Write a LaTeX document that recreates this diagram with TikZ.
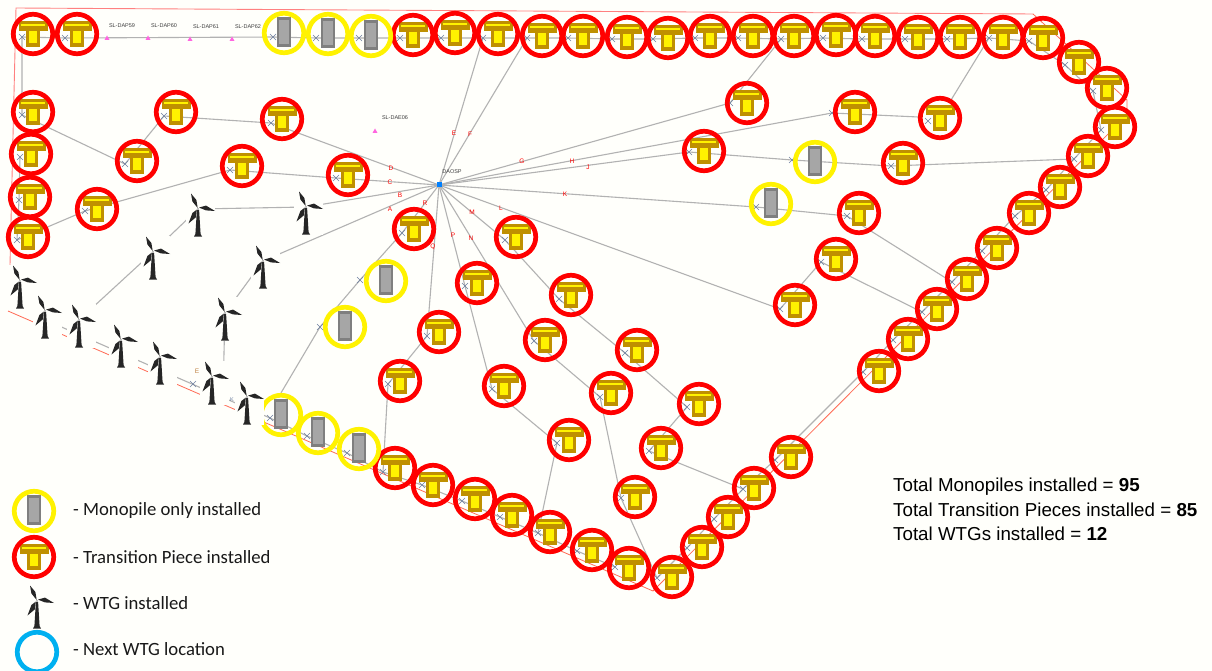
\documentclass[tikz,border=0pt]{standalone}
\usepackage{fontspec}
\setmainfont{Liberation Sans}
\newfontfamily\legfont{Carlito}
\usetikzlibrary{backgrounds}
\definecolor{pagebg}{HTML}{FFFFFB}
\definecolor{tpgold}{HTML}{BF9000}
\definecolor{mpedge}{HTML}{7F7F7F}
\definecolor{mpfill}{HTML}{A6A6A6}
\definecolor{cable}{HTML}{B2B2B2}
\definecolor{xmark}{HTML}{6E80A0}
\definecolor{wtgdark}{HTML}{262626}
\definecolor{boundary}{HTML}{FF6A55}
\definecolor{pinkmark}{HTML}{FF66E0}
\definecolor{nextblue}{HTML}{00B0F0}
\tikzset{
  ringbase/.style={circle,line width=4.7pt,minimum size=39.5pt,inner sep=0pt},
  redring/.style={ringbase,draw=red},
  yelring/.style={ringbase,draw=yellow},
  bluering/.style={ringbase,draw=nextblue},
  cableline/.style={draw=cable,line width=1.1pt},
  redline/.style={draw=boundary,line width=0.8pt},
  spokelbl/.style={text=red,font=\fontsize{6.5}{7}\selectfont,inner sep=0pt},
  tinylbl/.style={text=black!75,font=\fontsize{5.5}{6}\selectfont,inner sep=0pt},
  legtext/.style={anchor=west,inner sep=0pt,text=black!90,font=\legfont\fontsize{18.7}{21}\selectfont},
  totals/.style={anchor=base west,inner sep=0pt,text=black,font=\fontsize{18.75}{21}\selectfont},
}
\newcommand{\TPshape}[2]{%
  \fill[tpgold] (#1-14.5,#2-13) rectangle (#1+15,#2-2.7);
  \fill[tpgold] (#1-7.5,#2-3) rectangle (#1+7,#2+12.6);
  \fill[yellow] (#1-12,#2-10.4) rectangle (#1+12.3,#2-8.2);
  \fill[yellow] (#1-3.7,#2-2.7) rectangle (#1+4.4,#2+8.8);
}
\newcommand{\MPshape}[2]{%
  \draw[mpedge,fill=mpfill,line width=2.2pt] (#1-6.2,#2-14.5) rectangle (#1+6.2,#2+12.5);
}
\newcommand{\XM}[2]{%
  \draw[xmark,line width=0.5pt] (#1-3,#2-3) -- (#1+3,#2+3) (#1-3,#2+3) -- (#1+3,#2-3);
}
\newcommand{\TPnode}[5]{%
  \coordinate (#1-x) at (#2+#4,#3+#5);
  \XM{#2+#4}{#3+#5}\TPshape{#2}{#3}
  \node[redring] (#1) at (#2,#3) {};
}
\newcommand{\MPnode}[5]{%
  \coordinate (#1-x) at (#2+#4,#3+#5);
  \XM{#2+#4}{#3+#5}\MPshape{#2}{#3}
  \node[yelring] (#1) at (#2,#3) {};
}
\newcommand{\WTshape}[2]{%
  \begin{scope}[shift={(#1,#2)}]
    \fill[wtgdark] (-1.1,1) -- (1.1,1) -- (2.6,25) -- (4,27.5) -- (-4,27.5) -- (-2.6,25) -- cycle;
    \fill[wtgdark] (-0.3,-1) -- (-5.6,-7.5) -- (-7,-15.5) -- (-1.6,-9) -- cycle;
    \fill[wtgdark] (1,-1.4) -- (8,-3.4) -- (17,2) -- (8,1.4) -- cycle;
    \fill[wtgdark] (-1.2,0.6) -- (-5.6,4) -- (-9.5,14.5) -- (-2.2,8.4) -- cycle;
    \fill[black!35] (0,0) circle (1.2);
  \end{scope}%
}
\newcommand{\WTnode}[3]{%
  \fill[pagebg] (#2-12,#3-16) rectangle (#2+17,#3+28);
  \WTshape{#2}{#3}
  \coordinate (#1) at (#2,#3);
}
\newcommand{\PMark}[2]{\fill[pinkmark] (#1-2.5,#2+2) -- (#1+2.5,#2+2) -- (#1,#2-2.5) -- cycle;}
\begin{document}
\begin{tikzpicture}[x=1pt,y=-1pt]
\useasboundingbox (0,0) rectangle (1212,671);

% ---------- foundations and turbines: name/x/y/cross dx/cross dy
\foreach \n/\x/\y/\dx/\dy in {
 a1/33/34/-11/3,a2/77/34/-12/4,
 a3/413/35/-13/3,a4/455/33/-14/5,a5/498/34/-15/4,a6/542/36/-15/2,a7/583/36/-15/2,a8/627/37/-15/2,a9/668/38/-15/1,a10/710/36/-15/2,
 a11/753/36/-15/2,a12/794/36/-13/3,a13/836/35/-13/3,a14/875/36/-13/3,a15/918/37/-13/2,a16/960/37/-13/2,a17/1003/37/-14/1,a18/1043/38/-14/3,
 a19/1079/62/-14/3,a20/1107/88/-14/3,a21/1115/127/-14/3,a22/1088/156/-14/3,a23/1060/187/-14/3,a24/1029/213/-14/3,a25/997/248/-15/3,
 a26/967/279/-15/3,a27/937/309/-15/3,a28/908/339/-15/1,a29/879/371/-16/1,a30/791/457/-16/3,a31/754/488/-11/1,a32/728/517/-14/2,
 a33/702/547/-15/1,a34/672/577/-15/1,a35/629/568/-14/-1,a36/592/550/-15/1,a37/550/532/-12/1,a38/512/515/-12/2,a39/475/499/-13/2,
 a40/433/485/-11/0,a41/395/468/-12/4,
 b1/33/112/-11/3,b2/31/154/-11/3,b3/30/197/-11/3,b4/28/237/-11/3,b5/176/112/-12/4,b6/282/119/-11/4,b7/137/161/-12/3,b8/242/166/-12/4,b9/348/175/-12/3,b10/97/209/-12/2,
 c1/414/229/-12/4,c2/516/237/-11/3,c3/477/283/-12/3,c4/571/295/-12/4,c5/439/332/-12/4,c6/545/340/-11/1,c7/637/350/-12/3,c8/400/381/-12/3,c9/504/386/-12/3,
 c10/611/393/-11/4,c11/699/404/-12/3,c12/569/440/-12/3,c13/661/448/-12/3,c14/635/497/-14/1,
 d1/747/103/-17/0,d2/855/112/-23/1,d3/940/118/-12/3,d4/704/151/-15/1,d5/903/163/-12/3,d6/859/213/-12/3,d7/836/259/-15/3,d8/795/305/-15/4}{
  \TPnode{\n}{\x}{\y}{\dx}{\dy}
}
\foreach \n/\x/\y/\dx/\dy in {m1/284/33/-11/4,m2/328/34/-12/4,m3/371/36/-12/2,m4/386/281/-26/-1,m5/345/327/-25/0,m6/281/415/-11/3,m7/318/433/-11/3,m8/359/449/-12/4,m9/815/162/-23/-2,m10/771/204/-15/3}{
  \MPnode{\n}{\x}{\y}{\dx}{\dy}
}
\foreach \n/\x/\y in {w1/198/209,w2/306/207,w3/153/252,w4/263/261,w5/20/281,w6/45/311,w7/79/320,w8/121/340,w9/160/357,w10/225/313,w11/212/377,w12/247/397}{
  \WTnode{\n}{\x}{\y}
}
\XM{193}{384}

% ---------- offshore substation
\fill[blue!50!cyan] (436.5,182.5) rectangle (441.5,187.5);
\coordinate (osp) at (439,185);
\node[tinylbl] (osplbl) at (452,172) {DAOSP};

% ---------- free ends of cable runs
\coordinate (endq) at (223.8,361);
\coordinate (endw) at (50,322);

% ---------- cable array, boundary and page colour underneath everything
\begin{scope}[on background layer]
  \fill[pagebg] (0,0) rectangle (1212,671);
  \draw[draw=red!50,line width=0.9pt] (10,265) -- (16,8) -- (1033,14);
  \draw[redline] (1033,14) -- (1127,100) -- (1127,115) -- (653,591) -- (8,311);
  % outer ring
  \draw[cableline] (a1-x) -- (a2-x) -- (m1-x) -- (m2-x) -- (m3-x) -- (a3-x) -- (a4-x) -- (a5-x) -- (a6-x)
     -- (a7-x) -- (a8-x) -- (a9-x) -- (a10-x) -- (a11-x) -- (a12-x) -- (a13-x) -- (a14-x) -- (a15-x) -- (a16-x) -- (a17-x) -- (a18-x)
     -- (a19-x) -- (a20-x) -- (a21-x) -- (a22-x) -- (a23-x) -- (a24-x) -- (a25-x) -- (a26-x) -- (a27-x) -- (a28-x) -- (a29-x) -- (a30-x)
     -- (a31-x) -- (a32-x) -- (a33-x) -- (a34-x);
  \draw[cableline] (a35-x) -- (a36-x) -- (a37-x) -- (a38-x) -- (a39-x) -- (a40-x) -- (a41-x) -- (m8-x) -- (m7-x) -- (m6-x) -- (endw);
  % spokes
  \draw[cableline] (osp) -- (b6-x) -- (b5-x) -- (b7-x) -- (b1-x) -- (a1-x);
  \draw[cableline] (osp) -- (b9-x) -- (b8-x) -- (b10-x) -- (b4-x) -- (b3-x) -- (b2-x);
  \draw[cableline] (osp) -- (w2) -- (w1) -- (w3) -- (w7);
  \draw[cableline] (osp) -- (w4) -- (w10) -- (endq);
  \draw[cableline] (osp) -- (c1-x) -- (m4-x) -- (m5-x) -- (m6.north);
  \draw[cableline] (osp) -- (c5-x) -- (c8-x) -- (a41-x);
  \draw[cableline] (osp) -- (c3-x) -- (c9-x) -- (c12-x) -- (a37-x);
  \draw[cableline] (osp) -- (c6-x) -- (c10-x) -- (c14-x) -- (a34-x);
  \draw[cableline] (osp) -- (c2-x) -- (c4-x) -- (c7-x) -- (c11-x) -- (c13-x) -- (a31-x);
  \draw[cableline] (osp) -- (d8-x) -- (d7-x) -- (a27-x);
  \draw[cableline] (osp) -- (m10-x) -- (d6-x) -- (a26-x);
  \draw[cableline] (osp) -- (d4-x) -- (m9-x) -- (d5-x) -- (a22-x);
  \draw[cableline] (osp) -- (d2-x) -- (d3) -- (a17-x);
  \draw[cableline] (osp) -- (d1-x) -- (a12-x);
  \draw[cableline] (osp) -- (a5-x);
  \draw[cableline] (osp) -- (a6-x);
\end{scope}

% ---------- spare positions
\PMark{107}{38}\PMark{148}{38}\PMark{190}{39}\PMark{232}{39}\PMark{375}{131}
\node[tinylbl] (sl59) at (122,26) {SL-DAP59};
\node[tinylbl] (sl60) at (164,26) {SL-DAP60};
\node[tinylbl] (sl61) at (206,27) {SL-DAP61};
\node[tinylbl] (sl62) at (248,27) {SL-DAP62};
\node[tinylbl] (sl06) at (395,118) {SL-DAE06};

% ---------- cable letters
\foreach \t/\x/\y in {D/391/168,C/390/182,B/400/195,A/390/209,R/425/203,Q/433/247,P/453/235,N/471/238,
  M/472/212,L/501/208,K/565/194,J/588/167,H/572/161,G/522/161,E/454/133,F/470/134}{
  \node[spokelbl] (lbl\t) at (\x,\y) {\t};
}
\node[spokelbl,text=brown] (lblwe) at (197,371) {E};
\node[tinylbl,text=xmark] (lblwk) at (232,400) {K};

% ---------- legend
\MPshape{34}{511}
\node[yelring] (legmp) at (34,511) {};
\TPshape{34}{557}
\node[redring] (legtp) at (34,557) {};
\WTshape{37}{601}
\node[bluering] (legnx) at (37,652) {};
\node[legtext] (legt1) at (73,511) {- Monopile only installed};
\node[legtext] (legt2) at (73,557) {- Transition Piece installed};
\node[legtext] (legt3) at (73,603) {- WTG installed};
\node[legtext] (legt4) at (73,649) {- Next WTG location};

% ---------- totals
\node[totals] (tot1) at (893,491.5) {Total Monopiles installed = \textbf{95}};
\node[totals] (tot2) at (893,516.5) {Total Transition Pieces installed = \textbf{85}};
\node[totals] (tot3) at (893,540.5) {Total WTGs installed = \textbf{12}};
\end{tikzpicture}
\end{document}
